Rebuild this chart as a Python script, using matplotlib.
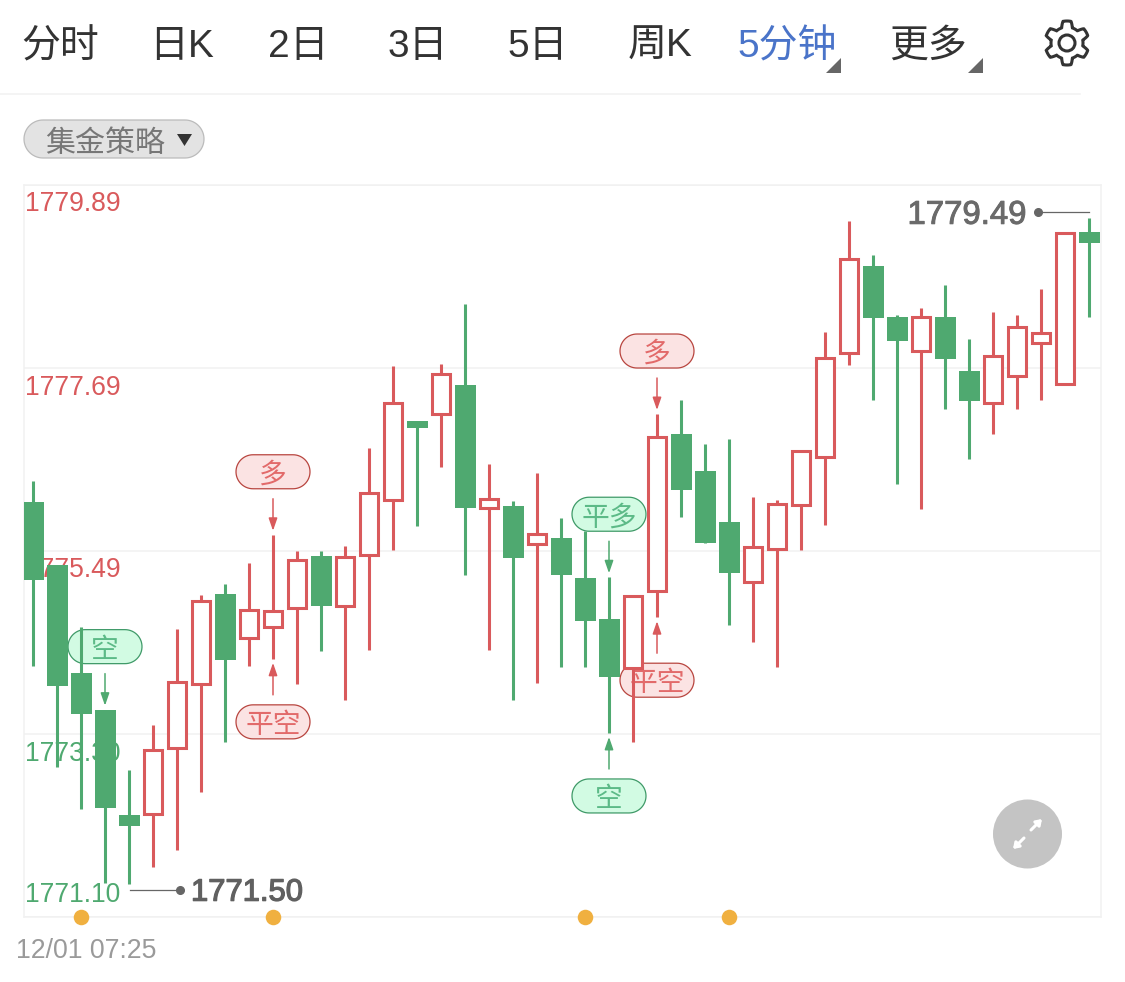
#!/usr/bin/env python3

import matplotlib
matplotlib.use('Agg')
import matplotlib.pyplot as plt
import matplotlib.patheffects as pe
import matplotlib.transforms as mtransforms
import numpy as np
from matplotlib.patches import Circle, Polygon

plt.rcParams['font.family'] = ['Liberation Sans', 'Noto Sans CJK SC', 'DejaVu Sans']

# candles, 5 minute bars
opens = [1776.08, 1775.33, 1774.03, 1773.59, 1772.32, 1772.34, 1773.13, 1773.90, 1774.98,
         1774.45, 1774.58, 1774.81, 1775.44, 1774.83, 1775.45, 1776.11, 1777.06, 1777.14,
         1777.49, 1776.01, 1776.04, 1775.58, 1775.65, 1775.17, 1774.68, 1774.09, 1775.01,
         1776.90, 1776.46, 1775.84, 1775.12, 1775.52, 1776.05, 1776.62, 1777.87, 1778.92,
         1778.30, 1777.90, 1778.30, 1777.66, 1777.27, 1777.60, 1777.99, 1777.50, 1779.33]
closes = [1775.15, 1773.87, 1773.54, 1772.41, 1772.19, 1773.11, 1773.92, 1774.89, 1774.19,
          1774.79, 1774.77, 1775.39, 1774.83, 1775.42, 1776.19, 1777.27, 1776.97, 1777.62,
          1776.01, 1776.12, 1775.41, 1775.70, 1775.21, 1774.65, 1773.98, 1774.95, 1776.86,
          1776.23, 1775.59, 1775.23, 1775.54, 1776.06, 1776.70, 1777.81, 1779.00, 1778.29,
          1778.02, 1778.30, 1777.80, 1777.30, 1777.84, 1778.19, 1778.11, 1779.31, 1779.19]
highs = [1776.33, 1775.33, 1774.58, 1773.59, 1772.87, 1773.41, 1774.56, 1774.97, 1775.10,
         1775.35, 1775.69, 1775.49, 1775.50, 1775.56, 1776.73, 1777.72, 1777.06, 1777.74,
         1778.46, 1776.54, 1776.10, 1776.43, 1775.89, 1775.74, 1775.18, 1774.95, 1777.14,
         1777.31, 1776.78, 1776.84, 1776.14, 1776.11, 1776.70, 1778.12, 1779.46, 1779.05,
         1778.33, 1778.41, 1778.69, 1778.04, 1778.37, 1778.33, 1778.64, 1779.31, 1779.49]
lows = [1774.11, 1772.90, 1772.40, 1771.51, 1771.50, 1771.70, 1771.90, 1772.60, 1773.20,
        1774.11, 1774.20, 1773.90, 1774.29, 1773.71, 1774.31, 1775.51, 1775.80, 1776.50,
        1775.21, 1774.31, 1773.71, 1773.91, 1774.10, 1774.10, 1773.31, 1773.20, 1774.70,
        1775.90, 1775.59, 1774.61, 1774.40, 1774.10, 1775.51, 1775.81, 1777.73, 1777.31,
        1776.30, 1776.00, 1777.20, 1776.60, 1776.90, 1777.20, 1777.31, 1777.50, 1778.30]

price_ticks = [1771.10, 1773.30, 1775.49, 1777.69, 1779.89]
price_labels = ['1771.10', '1773.30', '1775.49', '1777.69', '1779.89']

# strategy signals: candle index, text, above or below the candle
signal_idx = [3, 10, 10, 24, 24, 26, 26]
signal_text = ['空', '多', '平空', '平多', '空', '多', '平空']
signal_above = [True, True, False, True, False, True, False]

dot_idx = [2, 10, 23, 29]

tabs = ['分时', '日K', '2日', '3日', '5日', '周K', '5分钟', '更多']
tab_x = [60, 182, 298, 418, 538, 660, 787, 928]

RED = '#d95a5c'
GREEN = '#4fa970'
GRID = '#f1f1f1'
W, H = 1125, 982


def pill_points(cx, cy, w, h):
    """Outline of a fully rounded pill"""
    r = h / 2
    a = np.linspace(-np.pi / 2, np.pi / 2, 30)
    right = np.c_[cx + w / 2 - r + r * np.cos(a), cy + r * np.sin(a)]
    left = np.c_[cx - w / 2 + r - r * np.cos(a[::-1]), cy + r * np.sin(a[::-1])]
    return np.vstack([right, left])


fig = plt.figure(figsize=(W / 100, H / 100), dpi=100, facecolor='white')
ax = fig.add_axes([24 / W, (H - 917) / H, 1077 / W, 732 / H])

# everything that is not data is placed in image pixels, y going down
px = mtransforms.Affine2D().scale(1, -1).translate(0, H)

ax.set_xlim(-0.375, 44.5)
ax.set_ylim(price_ticks[0], price_ticks[-1])
ax.set_xticks([])
ax.set_yticks(price_ticks)
ax.set_yticklabels([])
ax.tick_params(length=0)
ax.grid(axis='y', color=GRID, linewidth=1.1)
ax.set_axisbelow(True)
for spine in ax.spines.values():
    spine.set_color(GRID)
    spine.set_linewidth(1.1)

x = np.arange(len(opens))
op = np.array(opens)
cl = np.array(closes)
up = cl >= op

# axis price labels sit under the candles
label_y = [895, 754, 570, 388, 204]
for text, y, price in zip(price_labels, label_y, price_ticks):
    ax.text(25, y, text, transform=px, fontsize=19.1, va='center', ha='left',
            color=RED if price > 1775 else GREEN, zorder=1)

# signals, also under the candles
for i, text, above in zip(signal_idx, signal_text, signal_above):
    red = text in ('多', '平空')
    col = RED if red else GREEN
    price = highs[i] if above else lows[i]
    xp, yp = ax.transData.transform((i, price))
    yp = H - yp
    sign = -1 if above else 1
    cy = yp + sign * 63
    ax.add_patch(Polygon(pill_points(xp, cy, 74, 34), closed=True, transform=px,
                         facecolor='#fbe3e3' if red else '#d2fbe3',
                         edgecolor='#b8453f' if red else '#3f9a68',
                         linewidth=0.9, clip_on=False, zorder=1))
    ax.text(xp, cy + 4, text, transform=px, fontsize=20, ha='center', va='center',
            color='#e26a6a' if red else '#5cba87', zorder=1.5)
    ax.annotate('', xy=(xp, yp + sign * 4), xytext=(xp, yp + sign * 36),
                xycoords=px, textcoords=px, annotation_clip=False, zorder=1.5,
                arrowprops=dict(arrowstyle='-|>,head_width=0.26,head_length=0.75', color=col,
                                linewidth=1.1, shrinkA=0, shrinkB=0))

colors = [RED if u else GREEN for u in up]
ax.vlines(x, lows, highs, colors=colors, linewidth=2.2, zorder=2, capstyle='butt')
ax.bar(x[~up], (cl - op)[~up], bottom=op[~up], width=21 / 24, color=GREEN, linewidth=0, zorder=3)
ax.bar(x[up], (cl - op)[up], bottom=op[up], width=18 / 24, facecolor='white', edgecolor=RED,
       linewidth=2.2, zorder=3)

ax.scatter(dot_idx, [price_ticks[0]] * len(dot_idx), s=125, color='#f0b040', linewidth=0,
           clip_on=False, zorder=5)

# high and low callouts
imax = int(np.argmax(highs))
imin = int(np.argmin(lows))
xh, yh = ax.transData.transform((imax, max(highs)))
xl, yl = ax.transData.transform((imin, min(lows)))
ax.plot([1038, xh], [H - yh - 6, H - yh - 6], transform=px, color='#666666', linewidth=0.9, clip_on=False, zorder=4)
ax.plot([1038], [H - yh - 6], transform=px, marker='o', ms=5.5, color='#666666', clip_on=False, zorder=4)
ax.text(1026, H - yh - 3, f'{max(highs):.2f}', transform=px, fontsize=23.7, ha='right', va='center',
        color='#6a6a6a', zorder=4, path_effects=[pe.withStroke(linewidth=0.7, foreground='#6a6a6a')])
ax.plot([xl + 1, 180], [H - yl + 6, H - yl + 6], transform=px, color='#666666', linewidth=0.9, clip_on=False, zorder=4)
ax.plot([180], [H - yl + 6], transform=px, marker='o', ms=5.5, color='#666666', clip_on=False, zorder=4)
ax.text(191, H - yl + 9, f'{min(lows):.2f}', transform=px, fontsize=22.3, ha='left', va='center',
        color='#606060', zorder=4, path_effects=[pe.withStroke(linewidth=0.9, foreground='#606060')])

# expand button
ax.add_patch(Circle((1027.5, 834), 34.5, transform=px, color='#c4c4c4', linewidth=0, zorder=6))
for start, end in [((1024, 838), (1013, 849)), ((1031, 830), (1042, 819))]:
    ax.annotate('', xy=end, xytext=start, xycoords=px, textcoords=px, zorder=7,
                arrowprops=dict(arrowstyle='-|>,head_width=0.22,head_length=0.32', color='white',
                                linewidth=2.2, shrinkA=0, shrinkB=0))

# everything outside the chart
ui = fig.add_axes([0, 0, 1, 1], facecolor='none', zorder=-1)
ui.set_xlim(0, W)
ui.set_ylim(H, 0)
ui.axis('off')

for text, tx in zip(tabs, tab_x):
    ui.text(tx, 47, text, fontsize=28, ha='center', va='center',
            color='#4a74c9' if text == '5分钟' else '#333333')
for tx in [826, 968]:
    ui.add_patch(Polygon([(tx, 73), (tx + 15, 73), (tx + 15, 58)], color='#666666', linewidth=0))
ui.plot([0, 1080], [94, 94], color=GRID, linewidth=1.1)

# settings gear
theta = np.linspace(0, 2 * np.pi, 360)
radius = 19 + 3 * np.clip(2.2 * np.cos(6 * (theta - np.pi / 2)), -1, 1)
ui.add_patch(Polygon(np.c_[1067 + radius * np.cos(theta), 43 + radius * np.sin(theta)], closed=True,
                     facecolor='none', edgecolor='#333333', linewidth=2.2))
ui.add_patch(Circle((1067, 43), 8, facecolor='none', edgecolor='#333333', linewidth=2.2))

# strategy pill
ui.add_patch(Polygon(pill_points(114, 139, 180, 38), closed=True, facecolor='#e3e3e3',
                     edgecolor='#bbbbbb', linewidth=0.9))
ui.text(105, 144, '集金策略', fontsize=21.6, ha='center', va='center', color='#777777')
ui.add_patch(Polygon([(177, 134), (192, 134), (184.5, 146)], color='#333333', linewidth=0))

ui.text(16, 951, '12/01 07:25', fontsize=19.2, ha='left', va='center', color='#9a9a9a')

fig.savefig('out.png', dpi=100)
